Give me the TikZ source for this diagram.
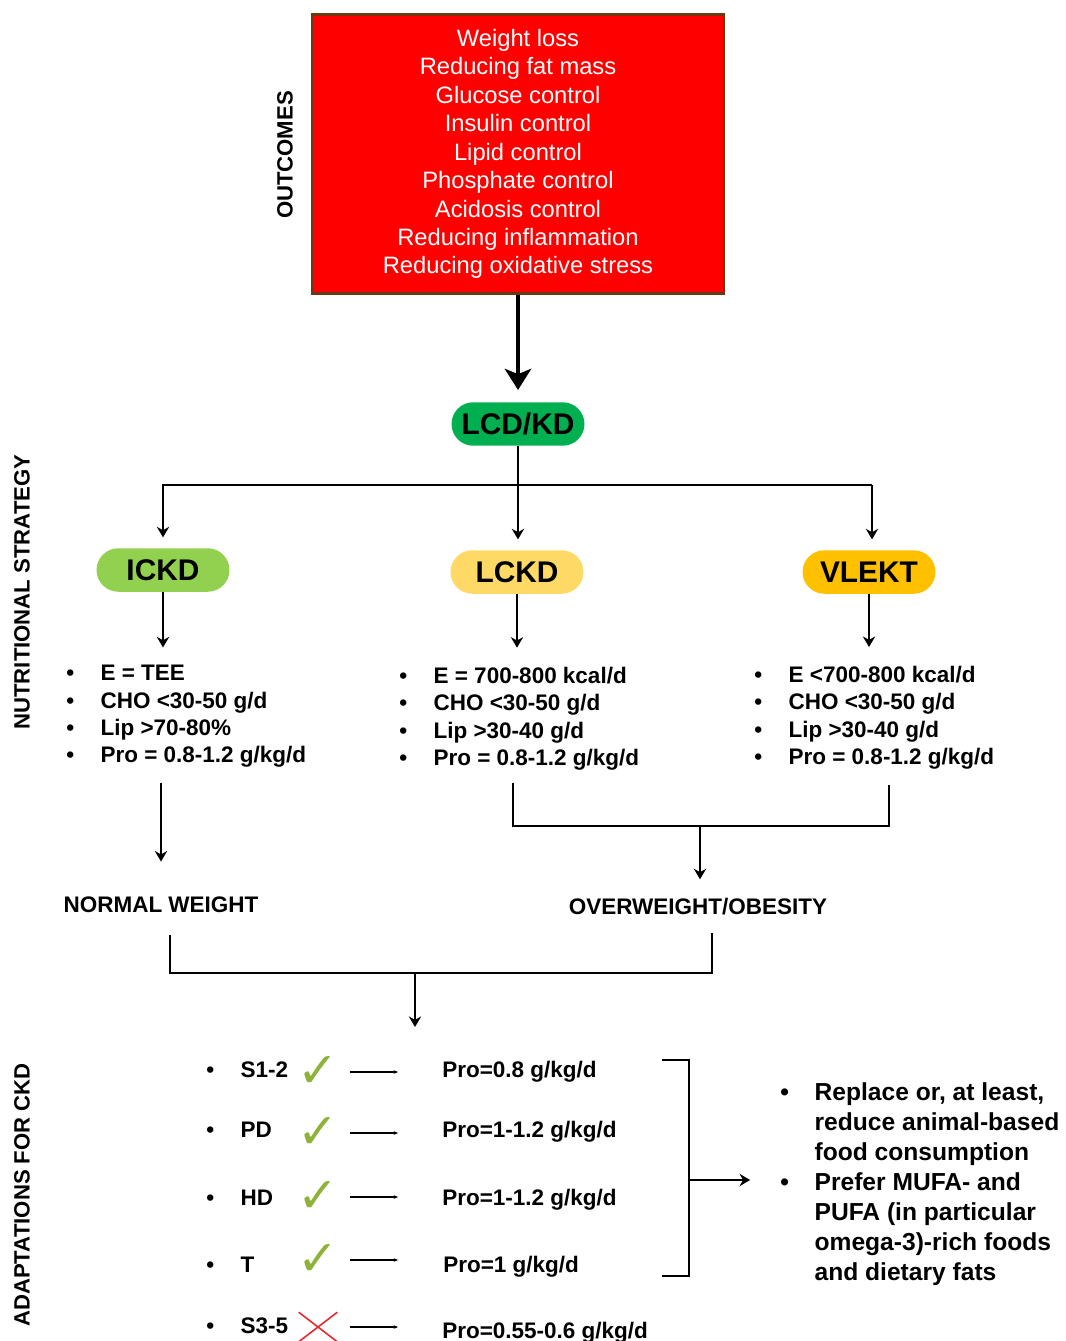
\documentclass[tikz,border=0pt]{standalone}
\usepackage{fontspec}
\setmainfont{Liberation Sans}
\newfontfamily\symfont{DejaVu Sans}
\usetikzlibrary{arrows.meta, positioning, shapes.misc}
\definecolor{outred}{RGB}{255,0,0}
\definecolor{outbrown}{RGB}{110,55,20}
\definecolor{kdgreen}{RGB}{0,176,80}
\definecolor{ickdgreen}{RGB}{146,208,80}
\definecolor{lckdyellow}{RGB}{255,217,102}
\definecolor{vlektorange}{RGB}{255,192,0}
\definecolor{tickgreen}{RGB}{141,179,58}
\definecolor{crossred}{RGB}{230,40,50}
\newcommand{\bul}{\makebox[19.5pt][l]{\textbullet}}

\begin{document}
\begin{tikzpicture}[
    x=0.02cm, y=-0.02cm,
    outbox/.style={draw=outbrown, line width=1.2pt, fill=outred, text=white, align=center, minimum width=8.24cm, minimum height=5.58cm, font=\fontsize{13.5}{16.2}\selectfont},
    pill/.style={rounded rectangle, minimum width=2.66cm, minimum height=0.87cm, inner sep=0pt, font=\bfseries\fontsize{17}{20}\selectfont},
    side/.style={rotate=90, inner sep=0pt, font=\bfseries\fontsize{12.6}{15}\selectfont},
    lst/.style={align=left, inner sep=0pt, font=\bfseries\fontsize{12.8}{15.5}\selectfont},
    txt/.style={inner sep=0pt, font=\bfseries\fontsize{12.8}{15.5}\selectfont},
    okmark/.style={inner sep=0pt, text=tickgreen, font=\symfont\fontsize{28}{28}\selectfont},
    nomark/.style={cross out, draw=crossred, line width=0.9pt, minimum width=0.74cm, minimum height=0.56cm, inner sep=0pt},
    bigarr/.style={-{Stealth[length=12pt, width=15pt, inset=3pt]}, line width=2.8pt},
    arr/.style={-{Stealth[length=6pt, width=7pt]}, line width=1.5pt},
    link/.style={line width=1.6pt},
    minarr/.style={-{Stealth[length=2.5pt, width=2pt]}, line width=0.6pt}
]
\fill[white] (0,0) rectangle (1065,1341);
\useasboundingbox (0,0) rectangle (1065,1341);

% outcomes
\node[outbox] (out) at (518,154) {Weight loss\\Reducing fat mass\\Glucose control\\Insulin control\\Lipid control\\Phosphate control\\Acidosis control\\Reducing inflammation\\Reducing oxidative stress};
\node[side] (outlab) at (285,155) {OUTCOMES};

% nutritional strategy
\node[pill, fill=kdgreen] (lcd) at (518,424) {LCD/KD};
\node[pill, fill=ickdgreen] (ickd) at (163,570) {ICKD};
\node[pill, fill=lckdyellow] (lckd) at (517,572) {LCKD};
\node[pill, fill=vlektorange] (vlekt) at (869,572) {VLEKT};
\node[side] (nutlab) at (22,592) {NUTRITIONAL STRATEGY};

\node[lst, anchor=north west] (l1) at (66,665) {\bul E = TEE\\\bul CHO <30-50 g/d\\\bul Lip >70-80\%\\\bul Pro = 0.8-1.2 g/kg/d};
\node[lst, anchor=north west] (l2) at (399,667) {\bul E = 700-800 kcal/d\\\bul CHO <30-50 g/d\\\bul Lip >30-40 g/d\\\bul Pro = 0.8-1.2 g/kg/d};
\node[lst, anchor=north west] (l3) at (754,666) {\bul E <700-800 kcal/d\\\bul CHO <30-50 g/d\\\bul Lip >30-40 g/d\\\bul Pro = 0.8-1.2 g/kg/d};

\node[txt] (nw) at (161,905) {NORMAL WEIGHT};
\node[txt] (ow) at (698,907) {OVERWEIGHT/OBESITY};

% adaptations for CKD
\node[side] (ckdlab) at (22,1195) {ADAPTATIONS FOR CKD};

\node[txt, anchor=base west] (s12) at (206,1077) {\bul S1-2};
\node[okmark] (c1) at (318,1072) {✓};
\node[txt, anchor=base west] (p1) at (442,1077) {Pro=0.8 g/kg/d};

\node[txt, anchor=base west] (pd) at (206,1137) {\bul PD};
\node[okmark] (c2) at (318,1133) {✓};
\node[txt, anchor=base west] (p2) at (442,1137) {Pro=1-1.2 g/kg/d};

\node[txt, anchor=base west] (hd) at (206,1205) {\bul HD};
\node[okmark] (c3) at (318,1197) {✓};
\node[txt, anchor=base west] (p3) at (442,1205) {Pro=1-1.2 g/kg/d};

\node[txt, anchor=base west] (tx) at (206,1272) {\bul T};
\node[okmark] (c4) at (318,1260) {✓};
\node[txt, anchor=base west] (p4) at (443,1272) {Pro=1 g/kg/d};

\node[txt, anchor=base west] (s35) at (206,1333) {\bul S3-5};
\node[nomark] (c5) at (318,1327) {};
\node[txt, anchor=base west] (p5) at (442,1338) {Pro=0.55-0.6 g/kg/d};

\node[lst, font=\bfseries\fontsize{14}{17.1}\selectfont, anchor=north west] (rl) at (780,1082) {\bul Replace or, at least,\\\hspace*{19.5pt}reduce animal-based\\\hspace*{19.5pt}food consumption\\\bul Prefer MUFA- and\\\hspace*{19.5pt}PUFA (in particular\\\hspace*{19.5pt}omega-3)-rich foods\\\hspace*{19.5pt}and dietary fats};

% connectors
\draw[bigarr] (out.south) -- ([yshift=6.8pt]lcd.north);

\coordinate (split) at (518,485);
\coordinate (splitr) at (872,485);
\draw[link] (ickd.north |- split) -- (splitr);
\draw[arr] (lcd.south) -- ([yshift=6pt]lcd.south |- lckd.north);
\draw[arr] (split) -| ([yshift=6pt]ickd.north);
\draw[arr] (splitr) -- ([yshift=6pt]splitr |- vlekt.north);

\draw[arr] (ickd.south) -- ([yshift=10pt]ickd.south |- l1.north);
\draw[arr] (lckd.south) -- ([yshift=11pt]lckd.south |- l2.north);
\draw[arr] (vlekt.south) -- ([yshift=10.8pt]vlekt.south |- l3.north);

\draw[arr, shorten <=9pt, shorten >=20pt] (nw.north |- l1.south) -- (nw.north);

\coordinate (b2) at (513,783);
\coordinate (b3) at (889,785);
\coordinate (jn1) at (700,826);
\draw[link] (b2) |- (jn1) -| (b3);
\draw[arr, shorten >=10.8pt] (jn1) -- (jn1 |- ow.north);

\coordinate (b4) at (170,935);
\coordinate (b5) at (712,933);
\coordinate (jn2) at (415,973);
\coordinate (ckdin) at (415,1027);
\draw[link] (b4) |- (jn2) -| (b5);
\draw[arr] (jn2) -- (ckdin);

\draw[minarr] ([xshift=18pt]c1.center) -- ([xshift=-25pt]c1.center -| p1.west);
\draw[minarr] ([xshift=18pt]c2.center) -- ([xshift=-25pt]c2.center -| p2.west);
\draw[minarr] ([xshift=18pt]c3.center) -- ([xshift=-25pt]c3.center -| p3.west);
\draw[minarr] ([xshift=18pt]c4.center) -- ([xshift=-25pt]c4.center -| p3.west);
\draw[minarr] ([xshift=18pt]c5.center) -- ([xshift=-25pt]c5.center -| p5.west);

\coordinate (b6) at (662,1060);
\coordinate (b7) at (662,1276);
\coordinate (jn3) at (689,1180);
\draw[link] (b6) -| (jn3) |- (b7);
\draw[arr] (jn3) -- ([xshift=-17pt]jn3 -| rl.west);
\end{tikzpicture}
\end{document}
